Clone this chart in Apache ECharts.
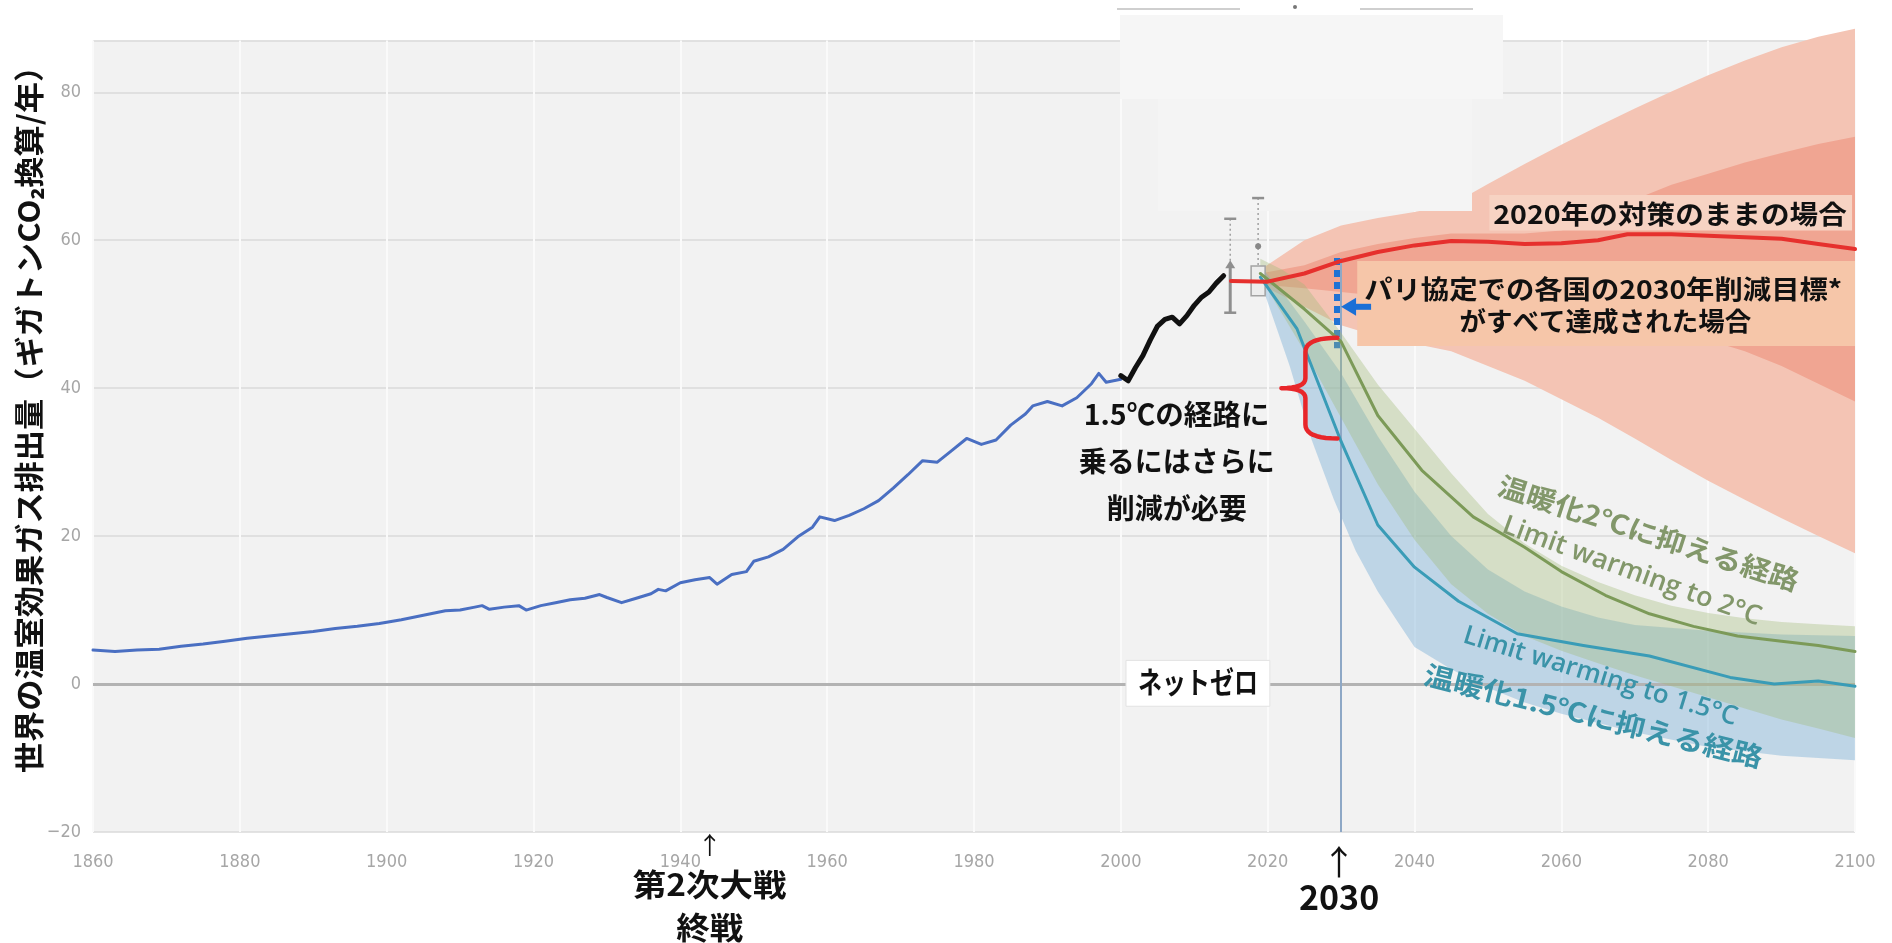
<!DOCTYPE html>
<html>
<head>
<meta charset="utf-8">
<title>世界の温室効果ガス排出量</title>
<script src="https://cdn.jsdelivr.net/npm/echarts@6/dist/echarts.min.js"></script>
<style>
  html, body { margin: 0; padding: 0; background: #ffffff; }
  #chart { width: 1892px; height: 943px; }
</style>
</head>
<body>
<div id="chart"></div>
<script>
// ---- Historical emissions (GtCO2e / year) ----
const histYears = [1860,1863,1866,1869,1872,1875,1878,1881,1884,1887,1890,1893,1896,1899,1902,1905,1908,1910,1912,1913,
  1914,1916,1918,1919,1921,1923,1925,1927,1929,1930,1932,1934,1936,1937,1938,1940,1942,1944,1945,1947,
  1949,1950,1952,1954,1956,1958,1959,1961,1963,1965,1967,1969,1971,1973,1975,1977,1979,1981,1983,1985,
  1987,1988,1990,1992,1994,1996,1997,1998,2000];
const histValues = [4.6,4.4,4.6,4.7,5.1,5.4,5.8,6.2,6.5,6.8,7.1,7.5,7.8,8.2,8.7,9.3,9.9,10.0,10.4,10.6,
  10.1,10.4,10.6,10.0,10.6,11.0,11.4,11.6,12.1,11.7,11.0,11.6,12.2,12.8,12.6,13.7,14.1,14.4,13.5,14.8,
  15.2,16.6,17.2,18.2,19.9,21.2,22.6,22.1,22.8,23.7,24.8,26.5,28.3,30.2,30.0,31.6,33.2,32.4,33.0,35.0,
  36.5,37.6,38.2,37.6,38.7,40.6,42.0,40.8,41.2];

// ---- Recent emissions ----
const recentYears = [2000,2001,2002,2003,2004,2005,2006,2007,2008,2009,2010,2011,2012,2013,2014];
const recentValues = [41.7,41.0,42.8,44.4,46.5,48.4,49.3,49.6,48.7,49.8,51.2,52.3,53.0,54.2,55.2];

// ---- Uncertainty ranges around recent years ----
const rangeYears  = [2014.9, 2018.7];
const rangeLow    = [50.2, 52.5];
const rangeMid    = [56.6, 59.2];
const rangeHigh   = [62.9, 65.7];
const rangeBoxTop = [null, 56.5];

// ---- Current policies (2020) pathway ----
const policyYears  = [2015,2020,2025,2030,2035,2040,2045,2050,2055,2060,2065,2069,2075,2080,2085,2090,2095,2100];
const policyValues = [54.5,54.4,55.5,57.2,58.4,59.3,59.9,59.8,59.5,59.6,60.0,60.8,60.8,60.6,60.4,60.2,59.5,58.8];

const policyBandYears = [2019,2025,2030,2035,2040,2045,2050,2055,2060,2065,2070,2075,2080,2085,2090,2095,2100];
const policyOuterHigh = [56.0,60.0,62.0,63.0,63.8,64.8,67.6,70.3,72.9,75.4,77.8,80.1,82.3,84.3,86.1,87.5,88.6];
const policyOuterLow  = [54.0,51.0,48.5,47.0,46.0,45.0,43.0,41.0,38.5,36.0,33.2,30.3,27.5,24.9,22.4,20.0,17.7];
const policyInnerHigh = [55.5,56.6,58.4,59.5,60.3,60.9,60.9,60.9,61.3,63.0,65.5,67.5,69.0,70.5,71.8,73.0,74.0];
const policyInnerLow  = [54.0,53.5,53.0,52.5,52.0,51.5,51.0,50.5,50.0,49.3,48.5,47.6,46.5,45.0,43.0,40.6,38.2];

// ---- 2°C pathway ----
const twoBandYears = [2019,2022,2025,2030,2035,2040,2045,2050,2055,2060,2065,2070,2075,2080,2085,2090,2095,2100];
const twoBandHigh  = [57.5,56.0,54.0,47.5,40.5,34.5,28.5,23.0,19.0,16.0,13.8,12.0,10.6,9.6,8.9,8.4,8.1,7.8];
const twoBandLow   = [55.0,50.0,45.0,36.0,27.0,19.5,13.5,9.5,6.5,4.5,2.8,1.2,-0.3,-1.8,-3.3,-4.8,-6.0,-7.3];
const twoYears  = [2019,2025,2030,2035,2041,2048,2055,2060,2066,2072,2078,2084,2090,2095,2100];
const twoValues = [55.5,50.7,46.3,36.3,28.9,22.6,18.5,15.2,12.0,9.5,7.8,6.5,5.8,5.2,4.4];

// ---- 1.5°C pathway ----
const oneFiveBandYears = [2019,2022,2025,2030,2035,2040,2045,2050,2055,2060,2065,2070,2080,2090,2100];
const oneFiveBandHigh  = [56.5,53.0,49.0,42.0,33.5,26.0,20.0,15.5,12.5,10.5,9.0,8.0,7.2,6.7,6.5];
const oneFiveLowYears  = [2019,2023,2026,2029,2032,2035,2038,2040,2045,2050,2055,2060,2070,2080,2090,2100];
const oneFiveLowValues = [54.5,43.0,33.0,25.0,18.0,12.5,8.0,5.0,2.0,-0.5,-2.5,-4.0,-6.5,-8.5,-9.7,-10.3];
const oneFiveYears  = [2019,2024,2030,2035,2040,2046,2054,2063,2072,2083,2089,2095,2100];
const oneFiveValues = [55.0,48.0,32.8,21.5,15.8,11.2,6.8,5.2,3.8,0.9,0.0,0.4,-0.3];

// ---- 2030 NDC gap ----
const ndcRange = [45.4, 57.6];     // dashed span at 2030
const gapRange = [33.2, 46.8];     // extra cut needed for 1.5°C
const markerYear = 2030;
const warEndYear = 1944;

const JP = "'Noto Sans CJK JP', 'Noto Sans', sans-serif";
const LATIN = "'Open Sans', 'Noto Sans', sans-serif";
const NARROW = "'Liberation Sans Narrow', 'DejaVu Sans Condensed', sans-serif";

const chart = echarts.init(document.getElementById('chart'), null, { renderer: 'canvas' });

const pairs = (xs, ys) => xs.map((x, i) => [x, ys[i]]);

// Filled range between two edges, drawn through the axis scales
function bandSeries(name, xsHigh, high, xsLow, low, fill, z, clip) {
  return {
    type: 'custom', name, z, silent: true, clip,
    data: [[xsHigh[0], high[0]]],
    renderItem: function (params, api) {
      const pts = [];
      for (let i = 0; i < xsHigh.length; i++) pts.push(api.coord([xsHigh[i], high[i]]));
      for (let i = xsLow.length - 1; i >= 0; i--) pts.push(api.coord([xsLow[i], low[i]]));
      return { type: 'polygon', shape: { points: pts }, style: { fill: fill } };
    }
  };
}

function lineSeries(name, xs, ys, color, width, z) {
  return {
    type: 'line', name, z, silent: true, data: pairs(xs, ys),
    showSymbol: false, symbol: 'none',
    lineStyle: { color, width, cap: 'round', join: 'round' }
  };
}

const option = {
  animation: false,
  backgroundColor: '#ffffff',
  grid: { left: 93, right: 37, top: 40.5, bottom: 111, show: true, backgroundColor: '#f2f2f2', borderWidth: 0 },
  xAxis: {
    type: 'value', min: 1860, max: 2100, interval: 20,
    axisLine: { show: false }, axisTick: { show: false },
    axisLabel: { margin: 21, color: '#a6a6a6', fontSize: 18, fontFamily: NARROW, formatter: v => String(v) },
    splitLine: { show: true, lineStyle: { color: '#fafafa', width: 2 } }
  },
  yAxis: {
    type: 'value', min: -20, max: 87, interval: 20,
    axisLine: { show: false }, axisTick: { show: false },
    axisLabel: {
      margin: 12, color: '#a6a6a6', fontSize: 18, fontFamily: NARROW,
      formatter: v => (v % 20 === 0 ? (v < 0 ? '\u2212' + Math.abs(v) : String(v)) : '')
    },
    splitLine: { lineStyle: { color: '#dadada', width: 1.5 } }
  },
  series: [
    // net-zero reference line
    {
      type: 'line', name: 'zero', z: 1, data: [], silent: true,
      markLine: {
        silent: true, symbol: 'none', label: { show: false },
        lineStyle: { color: '#b3b3b3', width: 3, type: 'solid' },
        data: [{ yAxis: 0 }]
      }
    },
    bandSeries('policyOuter', policyBandYears, policyOuterHigh, policyBandYears, policyOuterLow, '#f4c4b4', 2, false),
    bandSeries('policyInner', policyBandYears, policyInnerHigh, policyBandYears, policyInnerLow, '#f0a592', 3, true),
    bandSeries('oneFiveBand', oneFiveBandYears, oneFiveBandHigh, oneFiveLowYears, oneFiveLowValues, 'rgba(120,175,215,0.42)', 4, true),
    bandSeries('twoBand', twoBandYears, twoBandHigh, twoBandYears, twoBandLow, 'rgba(160,185,120,0.36)', 5, true),
    // 2030 vertical guide and NDC span
    {
      type: 'line', name: 'guides', z: 12, data: [], silent: true,
      markLine: {
        silent: true, symbol: 'none', label: { show: false },
        data: [
          [{ coord: [markerYear, ndcRange[1]], lineStyle: { color: '#8ea8c6', width: 2, type: 'solid' } },
           { coord: [markerYear, -20] }],
          [{ coord: [markerYear - 0.6, ndcRange[1]], lineStyle: { color: '#1f72d4', width: 6, type: [7, 5] } },
           { coord: [markerYear - 0.6, ndcRange[0]] }]
        ]
      }
    },
    // uncertainty whiskers
    {
      type: 'custom', name: 'ranges', z: 15, silent: true,
      data: rangeYears.map((yr, i) => [yr, rangeLow[i], rangeMid[i], rangeHigh[i], rangeBoxTop[i] == null ? NaN : rangeBoxTop[i]]),
      encode: { x: 0, y: [1, 2, 3] },
      renderItem: function (params, api) {
        const x = api.value(0);
        const pL = api.coord([x, api.value(1)]);
        const pM = api.coord([x, api.value(2)]);
        const pH = api.coord([x, api.value(3)]);
        const boxTopV = api.value(4);
        const cx = pL[0];
        const gray = '#8f8f8f';
        const kids = [];
        const cap = (y) => ({ type: 'line', shape: { x1: cx - 6, y1: y, x2: cx + 6, y2: y }, style: { stroke: gray, lineWidth: 2.5 } });
        if (isNaN(boxTopV)) {
          kids.push({ type: 'line', shape: { x1: cx, y1: pH[1], x2: cx, y2: pM[1] }, style: { stroke: '#a0a0a0', lineWidth: 1.5, lineDash: [2, 3] } });
          kids.push({ type: 'line', shape: { x1: cx, y1: pM[1], x2: cx, y2: pL[1] }, style: { stroke: gray, lineWidth: 3 } });
          kids.push(cap(pH[1]), cap(pL[1]));
          kids.push({ type: 'polygon', shape: { points: [[cx, pM[1] - 5], [cx - 5, pM[1] + 3], [cx + 5, pM[1] + 3]] }, style: { fill: gray } });
        } else {
          const pB = api.coord([x, boxTopV]);
          kids.push({ type: 'line', shape: { x1: cx, y1: pH[1], x2: cx, y2: pB[1] }, style: { stroke: '#a0a0a0', lineWidth: 1.5, lineDash: [2, 3] } });
          kids.push(cap(pH[1]));
          kids.push({ type: 'rect', shape: { x: cx - 7, y: pB[1], width: 14, height: pL[1] - pB[1] }, style: { fill: '#ededed', stroke: '#a3a3a3', lineWidth: 1.5 } });
          kids.push({ type: 'circle', shape: { cx: cx, cy: pM[1], r: 3 }, style: { fill: '#888' } });
        }
        return { type: 'group', children: kids };
      }
    },
    lineSeries('history', histYears, histValues, '#4a6fc2', 3, 20),
    lineSeries('recent', recentYears, recentValues, '#111111', 5, 21),
    lineSeries('oneFive', oneFiveYears, oneFiveValues, '#3a9cb7', 3, 20),
    lineSeries('two', twoYears, twoValues, '#7c9a58', 3, 20),
    lineSeries('policy', policyYears, policyValues, '#e6302d', 4, 22)
  ]
};

chart.setOption(option);

// ---- annotations placed through the same axis scales ----
const P = (x, y) => chart.convertToPixel({ gridIndex: 0 }, [x, y]);
const plotBottom = P(1860, -20)[1];

function text(x, y, str, o) {
  return {
    type: 'text', x, y, z: 40,
    rotation: (o.rot || 0) * Math.PI / 180,
    scaleX: o.sx || 1,
    style: {
      text: str, fill: o.color || '#111111',
      fontSize: o.size, fontWeight: o.weight || 'bold', fontFamily: o.family || JP,
      align: 'center', verticalAlign: 'middle'
    }
  };
}
function boxFrom(x1, y1, x2, y2, fill, stroke, z) {
  const a = P(x1, y1), b = P(x2, y2);
  return {
    type: 'rect', z: z || 10,
    shape: { x: Math.min(a[0], b[0]), y: Math.min(a[1], b[1]), width: Math.abs(b[0] - a[0]), height: Math.abs(b[1] - a[1]) },
    style: { fill, stroke: stroke || null, lineWidth: stroke ? 1 : 0 }
  };
}
// points along a quadratic curve
function quad(p0, p1, p2, n) {
  const out = [];
  for (let i = 0; i <= n; i++) {
    const t = i / n, u = 1 - t;
    out.push([u * u * p0[0] + 2 * u * t * p1[0] + t * t * p2[0], u * u * p0[1] + 2 * u * t * p1[1] + t * t * p2[1]]);
  }
  return out;
}

const g = [];

// blank legend panel above the projections
g.push({ type: 'rect', z: 8, shape: { x: 1120, y: 15, width: 383, height: 84 }, style: { fill: '#f6f6f6' } });
g.push({ type: 'rect', z: 8, shape: { x: 1158, y: 99, width: 314, height: 112 }, style: { fill: '#f4f4f4' } });
g.push({ type: 'line', z: 8, shape: { x1: 1117, y1: 9, x2: 1240, y2: 9 }, style: { stroke: '#cfcfcf', lineWidth: 2 } });
g.push({ type: 'line', z: 8, shape: { x1: 1360, y1: 9, x2: 1473, y2: 9 }, style: { stroke: '#cfcfcf', lineWidth: 2 } });
g.push({ type: 'circle', z: 8, shape: { cx: 1295, cy: 7, r: 2 }, style: { fill: '#777' } });

// label boxes
g.push(boxFrom(2032.2, 57.2, 2100, 45.7, '#f6c6a9', null, 10));
g.push(boxFrom(2050.2, 66.1, 2099.6, 61.3, '#f7d3c3', null, 10));
g.push(boxFrom(2000.7, 3.2, 2020.3, -3.0, '#ffffff', '#e2e2e2', 10));

// y-axis title
g.push(text(29, 412, '世界の温室効果ガス排出量（ギガトンCO₂換算/年）', { size: 30, rot: 90, sx: 1.04 }));

// scenario labels
let p;
p = P(2074.8, 63.5); g.push(text(p[0], p[1], '2020年の対策のままの場合', { size: 26, sx: 1.1 }));
p = P(2065.7, 53.4); g.push(text(p[0], p[1], 'パリ協定での各国の2030年削減目標*', { size: 26, sx: 1.09 }));
p = P(2066.0, 49.0); g.push(text(p[0], p[1], 'がすべて達成された場合', { size: 26, sx: 1.02 }));
p = P(2007.6, 36.4); g.push(text(p[0], p[1], '1.5℃の経路に', { size: 28, sx: 1.02 }));
p = P(2007.6, 30.1); g.push(text(p[0], p[1], '乗るにはさらに', { size: 28 }));
p = P(2007.6, 23.8); g.push(text(p[0], p[1], '削減が必要', { size: 28 }));
p = P(2010.5, 0.27); g.push(text(p[0], p[1], 'ネットゼロ', { size: 30, sx: 0.8 }));

p = P(2071.9, 20.4); g.push(text(p[0], p[1], '温暖化2℃に抑える経路', { size: 27, sx: 1.1, rot: -18, color: '#82976a' }));
p = P(2069.6, 15.2); g.push(text(p[0], p[1], 'Limit warming to 2°C', { size: 27, weight: 600, family: LATIN, rot: -20, color: '#82976a' }));
p = P(2065.3, 1.0);  g.push(text(p[0], p[1], 'Limit warming to 1.5°C', { size: 26, weight: 600, family: LATIN, rot: -17, color: '#3a93a8' }));
p = P(2064.4, -4.3); g.push(text(p[0], p[1], '温暖化1.5℃に抑える経路', { size: 27, sx: 1.12, rot: -14, color: '#3a93a8' }));

// notes under the time axis
const xWar = P(warEndYear, 0)[0];
g.push(text(xWar, plotBottom + 13, '↑', { size: 24, weight: 'normal' }));
g.push(text(xWar, plotBottom + 52, '第2次大戦', { size: 31, sx: 1.08 }));
g.push(text(xWar, plotBottom + 95, '終戦', { size: 31, sx: 1.08 }));
const x2030 = P(markerYear, 0)[0];
g.push(text(x2030 - 2, plotBottom + 30, '↑', { size: 34, weight: 'normal' }));
g.push(text(x2030 - 2, plotBottom + 65, String(markerYear), { size: 34 }));

// brace marking the remaining gap at 2030
const bt = P(markerYear - 0.5, gapRange[1]);
const bb = P(markerYear - 0.5, gapRange[0]);
const xr = bt[0], xm = xr - 32, xl = xr - 56, yt = bt[1], yb = bb[1], ym = (yt + yb) / 2;
const brace = []
  .concat(quad([xr, yt], [xm, yt], [xm, yt + 14], 10))
  .concat([[xm, ym - 10]])
  .concat(quad([xm, ym - 10], [xm, ym], [xl, ym], 8))
  .concat(quad([xl, ym], [xm, ym], [xm, ym + 10], 8))
  .concat([[xm, yb - 14]])
  .concat(quad([xm, yb - 14], [xm, yb], [xr, yb], 10));
g.push({
  type: 'polyline', z: 30, shape: { points: brace },
  style: { stroke: '#e8262a', lineWidth: 4.5, fill: null, lineCap: 'round', lineJoin: 'round' }
});

// arrow pointing at the NDC span
const at = P(markerYear, 51);
g.push({ type: 'polygon', z: 31, shape: { points: [[at[0], at[1]], [at[0] + 15, at[1] - 9], [at[0] + 15, at[1] + 9]] }, style: { fill: '#1a6fd6' } });
g.push({ type: 'line', z: 31, shape: { x1: at[0] + 12, y1: at[1], x2: at[0] + 30, y2: at[1] }, style: { stroke: '#1a6fd6', lineWidth: 6 } });

chart.setOption({ graphic: g });
</script>
</body>
</html>
